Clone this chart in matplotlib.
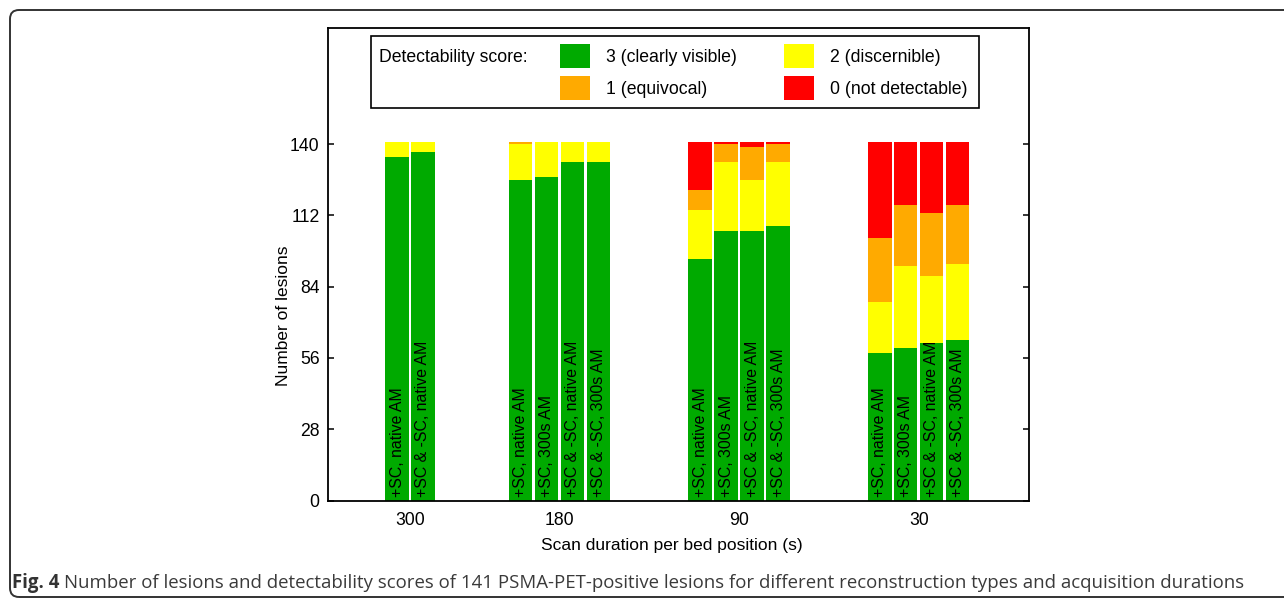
import numpy as np
import matplotlib
matplotlib.use('Agg')
import matplotlib.pyplot as plt
from matplotlib.patches import Rectangle, FancyBboxPatch
from matplotlib.transforms import IdentityTransform

# data (141 lesions per bar)
durations = ['300', '180', '90', '30']
n_recon = [2, 4, 4, 4]
recon_labels = ['+SC, native AM', '+SC & -SC, native AM',
                '+SC, native AM', '+SC, 300s AM', '+SC & -SC, native AM', '+SC & -SC, 300s AM',
                '+SC, native AM', '+SC, 300s AM', '+SC & -SC, native AM', '+SC & -SC, 300s AM',
                '+SC, native AM', '+SC, 300s AM', '+SC & -SC, native AM', '+SC & -SC, 300s AM']
score3 = [135, 137, 126, 127, 133, 133, 95, 106, 106, 108, 58, 60, 62, 63]
score2 = [6, 4, 14, 14, 8, 8, 19, 27, 20, 25, 20, 32, 26, 30]
score1 = [0, 0, 1, 0, 0, 0, 8, 7, 13, 7, 25, 24, 25, 23]
score0 = [0, 0, 0, 0, 0, 0, 19, 1, 2, 1, 38, 25, 28, 25]
score_labels = ['3 (clearly visible)', '2 (discernible)', '1 (equivocal)', '0 (not detectable)']
colors = ['#00aa00', '#ffff00', '#ffaa00', '#ff0000']

plt.rcParams['font.family'] = ['Liberation Sans', 'DejaVu Sans']

W, H = 1284, 599
fig = plt.figure(figsize=(W / 100, H / 100), dpi=100)


def px(x, y):
    # pixel (from top-left) -> figure fraction
    return x / W, 1 - y / H


ax = fig.add_axes([328 / W, 1 - 500.5 / H, 700.7 / W, 473 / H])

# bar positions: one unit per bar slot
group_pos = [3.16, 8.92, 15.84, 22.76]
xs = []
for c, n in zip(group_pos, n_recon):
    xs += list(c + np.arange(n) - (n - 1) / 2)
xs = np.array(xs)

bottom = np.zeros(len(xs))
for vals, col in zip([score3, score2, score1, score0], colors):
    vals = np.array(vals)
    ax.bar(xs, vals, bottom=bottom, width=0.91, color=col, linewidth=0)
    bottom += vals

for x, lab in zip(xs, recon_labels):
    ax.text(x, 1.2, lab, rotation=90, ha='center', va='bottom', fontsize=11.4)

ax.set_xlim(0, 27)
ax.set_ylim(0, 185.8)
ax.set_yticks(np.arange(0, 141, 28))
ax.set_xticks(group_pos)
ax.set_xticklabels(durations)
ax.tick_params(axis='y', direction='in', length=4, width=1.1, labelsize=12.7, pad=6,
               right=True)
ax.tick_params(axis='x', length=0, labelsize=12.7, pad=8)
for s in ax.spines.values():
    s.set_linewidth(1.3)

ax.set_ylabel('Number of lesions', fontsize=12.5)
ax.yaxis.set_label_coords(-0.053, 0.39)
ax.set_xlabel('Scan duration per bed position (s)', fontsize=12.5)
ax.xaxis.set_label_coords(0.491, -0.079)

# legend box drawn by hand
lx0, ly0 = px(371, 108)
lx1, ly1 = px(979, 36)
fig.add_artist(Rectangle((lx0, ly0), lx1 - lx0, ly1 - ly0, transform=fig.transFigure,
                         fill=False, edgecolor='black', linewidth=1.2))
fig.text(*px(379, 57), 'Detectability score:', fontsize=12.7, va='center')
leg_spots = [(560, 44), (784, 44), (560, 76), (784, 76)]
for (x, y), col, lab in zip(leg_spots, colors, score_labels):
    rx, ry = px(x, y + 24)
    fig.add_artist(Rectangle((rx, ry), 30 / W, 24 / H, transform=fig.transFigure,
                             facecolor=col, edgecolor='none'))
    fig.text(*px(x + 46, y + 13), lab, fontsize=12.7, va='center')

# outer rounded frame
fig.add_artist(FancyBboxPatch((10, 2), 1400, 587, boxstyle='round,pad=0,rounding_size=9',
                              transform=IdentityTransform(), fill=False,
                              edgecolor='#333333', linewidth=1.4))

# caption
cap = fig.text(*px(12, 588), 'Fig. 4', fontsize=13.4, fontweight='bold', family='Open Sans',
               color='#333333', va='baseline')
fig.canvas.draw()
ext = cap.get_window_extent(fig.canvas.get_renderer())
fig.text((ext.x1 + 5) / W, 1 - 588 / H,
         'Number of lesions and detectability scores of 141 PSMA-PET-positive lesions '
         'for different reconstruction types and acquisition durations',
         fontsize=13.4, family='Open Sans', color='#3a3a3a', va='baseline')

fig.savefig('out.png', dpi=100)
